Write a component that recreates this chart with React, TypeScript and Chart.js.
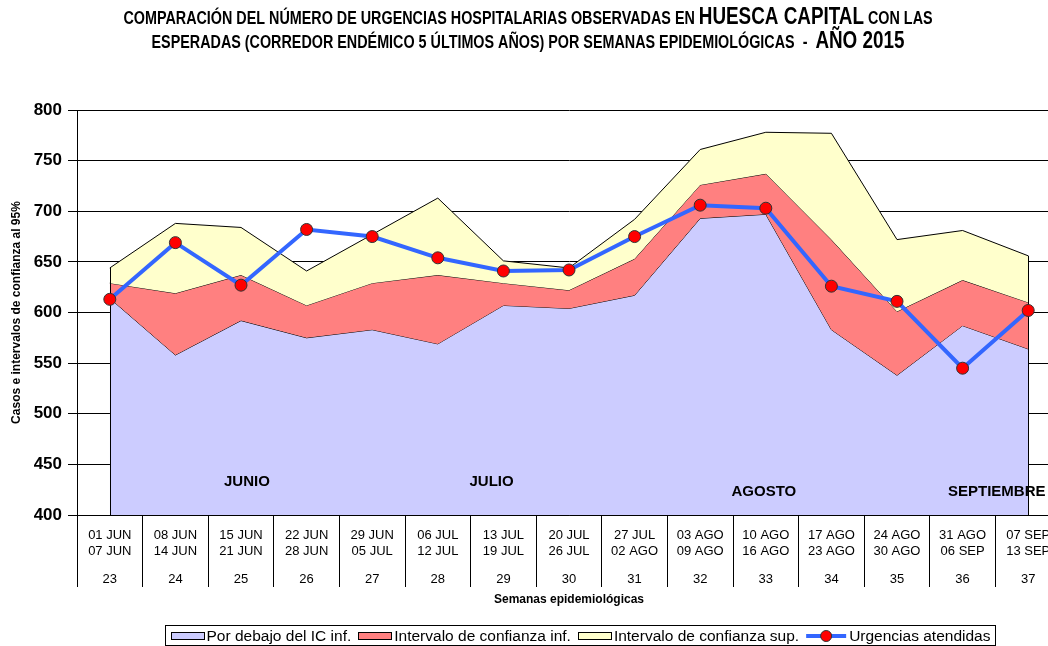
import React, { useEffect, useRef } from 'react';
import { Chart, registerables } from 'chart.js';

Chart.register(...registerables);

// ---------- data ----------
const weekRanges: string[][] = [
  ['01 JUN', '07 JUN'], ['08 JUN', '14 JUN'], ['15 JUN', '21 JUN'], ['22 JUN', '28 JUN'],
  ['29 JUN', '05 JUL'], ['06 JUL', '12 JUL'], ['13 JUL', '19 JUL'], ['20 JUL', '26 JUL'],
  ['27 JUL', '02 AGO'], ['03 AGO', '09 AGO'], ['10 AGO', '16 AGO'], ['17 AGO', '23 AGO'],
  ['24 AGO', '30 AGO'], ['31 AGO', '06 SEP'], ['07 SEP', '13 SEP'],
];
const weekNumbers = ['23', '24', '25', '26', '27', '28', '29', '30', '31', '32', '33', '34', '35', '36', '37'];

const lowerBound = [614, 558, 592, 575, 583, 569, 607, 604, 617, 693, 697, 583, 538, 587, 564];
const midBound = [629, 619, 637, 607, 629, 637, 629, 622, 653, 726, 737, 672, 601, 632, 610];
const upperBound = [644, 688, 684, 641, 677, 713, 651, 644, 692, 761, 778, 777, 672, 681, 656];
const observed = [613, 669, 627, 682, 675, 654, 641, 642, 675, 706, 703, 626, 611, 545, 602];

const seriesNames = [
  'Por debajo del IC inf.',
  'Intervalo de confianza inf.',
  'Intervalo de confianza sup.',
  'Urgencias atendidas',
];

const monthNames = ['JUNIO', 'JULIO', 'AGOSTO', 'SEPTIEMBRE'];
const monthAtWeekIndex = [2.09, 5.82, 9.97, 13.52];
const monthAtValue = [433, 433, 423, 423];

const yAxisTitle = 'Casos e intervalos de confianza al 95%';
const xAxisTitle = 'Semanas epidemiológicas';

const titleLines: [string, boolean][][] = [
  [
    ['COMPARACIÓN DEL NÚMERO DE URGENCIAS HOSPITALARIAS OBSERVADAS EN ', false],
    ['HUESCA CAPITAL', true],
    [' CON LAS', false],
  ],
  [
    ['ESPERADAS (CORREDOR ENDÉMICO 5 ÚLTIMOS AÑOS) POR SEMANAS EPIDEMIOLÓGICAS  -  ', false],
    ['AÑO 2015', true],
  ],
];

const FAMILY = '"Liberation Sans", Arial, Helvetica, sans-serif';

// ---------- plugins ----------
const monthPlugin = {
  id: 'monthLabels',
  afterDatasetDraw(chart: any, args: any) {
    if (args.index !== 0) return;
    const { ctx, scales } = chart;
    ctx.save();
    ctx.font = `bold 15px ${FAMILY}`;
    ctx.fillStyle = '#000';
    ctx.textAlign = 'center';
    ctx.textBaseline = 'middle';
    monthNames.forEach((m, i) => {
      ctx.fillText(m, scales.x.getPixelForValue(monthAtWeekIndex[i]), scales.y.getPixelForValue(monthAtValue[i]));
    });
    ctx.restore();
  },
};

const edgePlugin = {
  id: 'areaEdges',
  afterDatasetDraw(chart: any, args: any) {
    if (args.index !== 2) return;
    const { ctx, scales, chartArea } = chart;
    ctx.save();
    ctx.strokeStyle = '#000';
    ctx.lineWidth = 1;
    [0, upperBound.length - 1].forEach((i) => {
      const px = Math.round(scales.x.getPixelForValue(i)) + 0.5;
      ctx.beginPath();
      ctx.moveTo(px, scales.y.getPixelForValue(upperBound[i]));
      ctx.lineTo(px, chartArea.bottom);
      ctx.stroke();
    });
    ctx.restore();
  },
};

const titlePlugin = {
  id: 'mixedTitle',
  afterDraw(chart: any) {
    const ctx = chart.ctx;
    ctx.save();
    const narrowFam = '"Liberation Sans Narrow", "Arial Narrow"';
    ctx.font = `bold 20px ${narrowFam}, monospace`;
    const a = ctx.measureText('ABCDEFGHIJ').width;
    ctx.font = 'bold 20px monospace';
    const b = ctx.measureText('ABCDEFGHIJ').width;
    const hasNarrow = Math.abs(a - b) > 0.5;
    const sx = hasNarrow ? 1 : 0.82;
    const fam = hasNarrow ? `${narrowFam}, sans-serif` : FAMILY;
    const fontFor = (big: boolean) => `bold ${big ? 23 : 17.5}px ${fam}`;
    ctx.fillStyle = '#000';
    ctx.textBaseline = 'alphabetic';
    const baselines = [24, 48];
    titleLines.forEach((segs, li) => {
      let total = 0;
      const widths = segs.map(([t, big]) => {
        ctx.font = fontFor(big);
        const w = ctx.measureText(t).width;
        total += w;
        return w;
      });
      ctx.save();
      ctx.translate(528 - (total * sx) / 2, baselines[li]);
      ctx.scale(sx, 1);
      let cx = 0;
      segs.forEach(([t, big], si) => {
        ctx.font = fontFor(big);
        ctx.fillText(t, cx, 0);
        cx += widths[si];
      });
      ctx.restore();
    });
    ctx.restore();
  },
};

const legendPlugin = {
  id: 'boxLegend',
  afterDraw(chart: any) {
    const ctx = chart.ctx;
    const ds = chart.data.datasets;
    ctx.save();
    ctx.font = `15.5px ${FAMILY}`;
    ctx.textBaseline = 'middle';
    const left = 165.5;
    const top = 625.5;
    const h = 20;
    const midY = 636;
    let x = left + 5;
    ds.forEach((d: any) => {
      const isLine = d.fill === false;
      const iconW = isLine ? 40 : 33;
      if (isLine) {
        ctx.strokeStyle = d.borderColor;
        ctx.lineWidth = 4;
        ctx.beginPath();
        ctx.moveTo(x, midY);
        ctx.lineTo(x + iconW, midY);
        ctx.stroke();
        ctx.beginPath();
        ctx.arc(x + iconW / 2, midY, 5.5, 0, Math.PI * 2);
        ctx.fillStyle = d.pointBackgroundColor;
        ctx.fill();
        ctx.lineWidth = 1;
        ctx.strokeStyle = d.pointBorderColor;
        ctx.stroke();
      } else {
        ctx.fillStyle = d.backgroundColor;
        ctx.fillRect(Math.round(x) + 0.5, midY - 3.5, iconW, 7);
        ctx.strokeStyle = '#000';
        ctx.lineWidth = 1;
        ctx.strokeRect(Math.round(x) + 0.5, midY - 3.5, iconW, 7);
      }
      x += iconW + 3;
      ctx.fillStyle = '#000';
      ctx.fillText(d.label, x, midY + 0.5);
      x += ctx.measureText(d.label).width + 7;
    });
    const right = Math.round(x - 7 + 5) + 0.5;
    ctx.strokeStyle = '#000';
    ctx.lineWidth = 1;
    ctx.strokeRect(left, top, right - left, h);
    ctx.restore();
  },
};

export default function App() {
  const ref = useRef<HTMLCanvasElement>(null);

  useEffect(() => {
    const canvas = ref.current;
    if (!canvas) return;
    Chart.defaults.font.family = FAMILY;
    const chart = new Chart(canvas, {
      type: 'line',
      data: {
        labels: weekRanges as any,
        datasets: [
          {
            label: seriesNames[0],
            data: lowerBound,
            fill: 'start',
            backgroundColor: '#CCCCFF',
            borderColor: '#000000',
            borderWidth: 1,
            pointRadius: 0,
            tension: 0,
            order: 3,
          },
          {
            label: seriesNames[1],
            data: midBound,
            fill: '-1',
            backgroundColor: '#FF8080',
            borderColor: '#000000',
            borderWidth: 1,
            pointRadius: 0,
            tension: 0,
            order: 2,
          },
          {
            label: seriesNames[2],
            data: upperBound,
            fill: '-1',
            backgroundColor: '#FFFFCC',
            borderColor: '#000000',
            borderWidth: 1,
            pointRadius: 0,
            tension: 0,
            order: 1,
          },
          {
            label: seriesNames[3],
            data: observed,
            fill: false,
            borderColor: '#3366FF',
            borderWidth: 4,
            pointRadius: 6,
            pointBackgroundColor: '#FF0000',
            pointBorderColor: '#333333',
            pointBorderWidth: 1,
            tension: 0,
            order: 0,
          } as any,
        ],
      },
      options: {
        responsive: false,
        animation: false,
        events: [],
        layout: { padding: { top: 110, left: 0, right: 39, bottom: 39 } },
        plugins: {
          legend: { display: false },
          title: { display: false },
          tooltip: { enabled: false },
        },
        scales: {
          x: {
            type: 'category',
            position: 'bottom',
            offset: true,
            grid: {
              display: true,
              offset: true,
              drawOnChartArea: false,
              drawTicks: true,
              tickLength: 72,
              color: '#000',
              lineWidth: 1,
            },
            border: { display: true, color: '#000', width: 1 },
            ticks: {
              autoSkip: false,
              maxRotation: 0,
              minRotation: 0,
              padding: -60,
              color: '#000',
              font: { size: 13, lineHeight: 1.23 },
            },
            afterFit: (s: any) => {
              s.height = 44;
            },
          },
          x2: {
            type: 'category',
            position: 'bottom',
            labels: weekNumbers,
            offset: true,
            grid: { display: false, drawTicks: false },
            border: { display: false },
            ticks: {
              autoSkip: false,
              maxRotation: 0,
              minRotation: 0,
              padding: 12,
              color: '#000',
              font: { size: 13, lineHeight: 1.23 },
            },
            title: {
              display: true,
              text: xAxisTitle,
              color: '#000',
              font: { size: 12, weight: 'bold' },
              padding: { top: 0, bottom: 0 },
            },
            afterFit: (s: any) => {
              s.height = 48;
            },
          },
          y: {
            min: 400,
            max: 800,
            ticks: {
              stepSize: 50,
              padding: 6,
              color: '#000',
              font: { size: 17, weight: 'bold' },
            },
            grid: { color: '#000', lineWidth: 1, tickLength: 9 },
            border: { display: true, color: '#000', width: 1 },
            title: {
              display: true,
              text: yAxisTitle,
              color: '#000',
              font: { size: 12, weight: 'bold' },
              padding: { top: 9.5, bottom: 0 },
            },
            afterFit: (s: any) => {
              s.width = 77;
            },
          },
        },
      } as any,
      plugins: [monthPlugin, edgePlugin, titlePlugin, legendPlugin],
    });
    return () => chart.destroy();
  }, []);

  return (
    <div
      style={{
        position: 'fixed',
        left: 0,
        top: 0,
        width: 1048,
        height: 646,
        overflow: 'hidden',
        background: '#fff',
      }}
    >
      <canvas ref={ref} width={1100} height={646} style={{ display: 'block', width: 1100, height: 646 }} />
    </div>
  );
}
